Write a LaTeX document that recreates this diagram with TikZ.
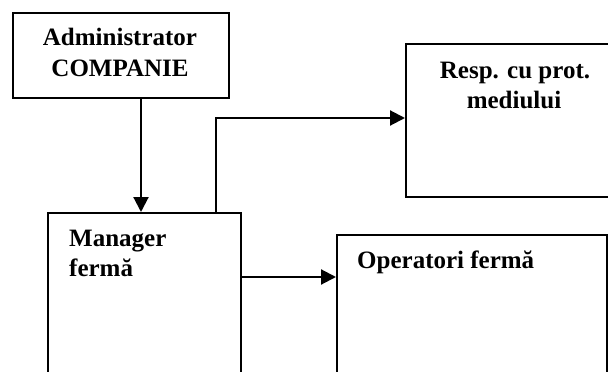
\documentclass[tikz,border=0pt]{standalone}
\usepackage{fontspec}
\setmainfont{Liberation Serif}
\usetikzlibrary{arrows.meta}
\begin{document}
\begin{tikzpicture}[x=1pt,y=-1pt,
  box/.style={draw, line width=2.1pt, rectangle, inner sep=0pt, anchor=north west},
  lbl/.style={font=\bfseries\fontsize{25}{30}\selectfont, inner sep=0pt},
  conn/.style={line width=2.1pt, -{Triangle[length=15pt,width=15pt]}}]
\useasboundingbox (0,0) rectangle (608,372);
\clip (0,0) rectangle (608,372);
\node[box, minimum width=216pt, minimum height=85pt] (admin) at (12,12) {};
\node[box, minimum width=193pt, minimum height=188pt] (mgr) at (47,212) {};
\node[box, minimum width=220pt, minimum height=153pt] (resp) at (405,43) {};
\node[box, minimum width=270pt, minimum height=166pt] (oper) at (336,234) {};
\node[lbl, anchor=base] (t1) at (120,45) {Administrator};
\node[lbl, anchor=base] (t2) at (120,76) {COMPANIE};
\node[lbl, anchor=base] (t3) at (515,78) {Resp. cu prot.};
\node[lbl, anchor=base] (t4) at (514,108) {mediului};
\node[lbl, anchor=base west] (t5) at (69,246) {Manager};
\node[lbl, anchor=base west] (t6) at (69,276) {fermă};
\node[lbl, anchor=base west] (t7) at (357,268) {Operatori fermă};
\coordinate (ax) at (141,0);
\coordinate (rx) at (216,118);
\coordinate (oy) at (0,277);
\draw[conn] (ax |- admin.south) -- (ax |- mgr.north);
\draw[conn] (rx |- mgr.north) -- (rx) -- (rx -| resp.west);
\draw[conn] (oy -| mgr.east) -- (oy -| oper.west);
\end{tikzpicture}
\end{document}
